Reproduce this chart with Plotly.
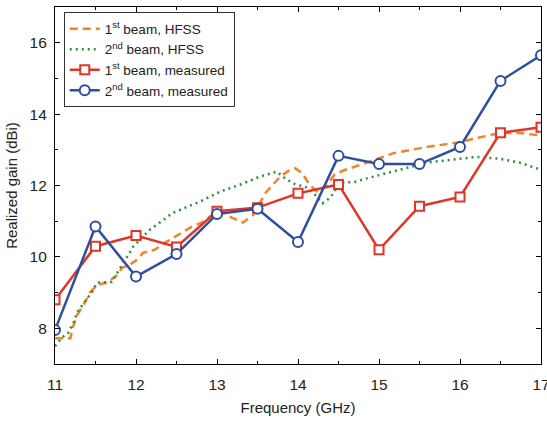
import plotly.graph_objects as go

# Measured data (frequency in GHz, gain in dBi)
freq_meas = [11, 11.5, 12, 12.5, 13, 13.5, 14, 14.5, 15, 15.5, 16, 16.5, 17]
beam1_meas = [8.8, 10.3, 10.6, 10.28, 11.28, 11.38, 11.78, 12.03, 10.2, 11.42, 11.68, 13.48, 13.63]
beam2_meas = [7.95, 10.85, 9.45, 10.08, 11.2, 11.35, 10.42, 12.83, 12.6, 12.6, 13.08, 14.93, 15.65]

# Simulated (HFSS) curves
freq_hfss1 = [11.0, 11.1, 11.19, 11.22, 11.28, 11.37, 11.43, 11.53, 11.65, 11.77, 11.83, 11.9, 12.0,
              12.09, 12.23, 12.36, 12.52, 12.69, 12.81, 12.98, 13.05, 13.18, 13.32, 13.45, 13.6, 13.78,
              13.9, 13.97, 14.05, 14.15, 14.25, 14.35, 14.45, 14.56, 14.85, 15.17, 15.59, 15.96,
              16.21, 16.49, 16.74, 16.95, 17.0]
beam1_hfss = [7.72, 7.72, 7.72, 8.03, 8.4, 8.73, 9.0, 9.23, 9.28, 9.5, 9.7, 9.75, 9.9,
              10.12, 10.2, 10.4, 10.63, 10.85, 10.96, 11.24, 11.3, 11.1, 10.96, 11.18, 11.8, 12.25,
              12.44, 12.48, 12.35, 12.0, 11.8, 12.0, 12.3, 12.42, 12.64, 12.9, 13.08, 13.2,
              13.33, 13.47, 13.47, 13.4, 13.4]

freq_hfss2 = [11.0, 11.09, 11.16, 11.23, 11.28, 11.37, 11.46, 11.52, 11.62, 11.7, 11.77, 11.83,
              11.97, 12.17, 12.46, 12.79, 13.04, 13.28, 13.53, 13.74, 13.84, 13.95, 14.1, 14.21,
              14.3, 14.4, 14.46, 14.52, 14.7, 14.85, 15.17, 15.59, 16.0, 16.21, 16.49, 16.74, 17.0]
beam2_hfss = [7.5, 7.75, 7.86, 8.17, 8.47, 8.75, 9.03, 9.28, 9.28, 9.3, 9.56, 9.79,
              10.3, 10.76, 11.24, 11.55, 11.83, 12.02, 12.25, 12.39, 12.2, 12.05, 11.95, 11.74,
              11.5, 11.66, 11.88, 12.08, 12.1, 12.2, 12.39, 12.64, 12.75, 12.8, 12.75, 12.64, 12.44]

x_ticks = [11, 12, 13, 14, 15, 16, 17]
y_ticks = [8, 10, 12, 14, 16]

ORANGE = "#F5822A"
GREEN = "#2F8F3A"
RED = "#E53325"
BLUE = "#2F4EA2"
FONT = "Liberation Sans, Arial, sans-serif"

fig = go.Figure()
fig.add_trace(go.Scatter(x=freq_hfss1, y=beam1_hfss, mode="lines",
                         name="1<sup>st</sup> beam, HFSS",
                         line=dict(color=ORANGE, width=2.5, dash="8px,5px")))
fig.add_trace(go.Scatter(x=freq_hfss2, y=beam2_hfss, mode="lines",
                         name="2<sup>nd</sup> beam, HFSS",
                         line=dict(color=GREEN, width=2.5, dash="2px,4px")))
fig.add_trace(go.Scatter(x=freq_meas, y=beam1_meas, mode="lines+markers",
                         name="1<sup>st</sup> beam, measured",
                         line=dict(color=RED, width=2.5),
                         marker=dict(symbol="square", size=9, color="white",
                                     line=dict(color=RED, width=2))))
fig.add_trace(go.Scatter(x=freq_meas, y=beam2_meas, mode="lines+markers",
                         name="2<sup>nd</sup> beam, measured",
                         line=dict(color=BLUE, width=2.5),
                         marker=dict(symbol="circle", size=10, color="white",
                                     line=dict(color=BLUE, width=2))))

axis_common = dict(showline=True, linecolor="black", linewidth=1.2, mirror="ticks",
                   ticks="inside", ticklen=5, tickcolor="black", showgrid=False,
                   zeroline=False, ticklabeloverflow="allow", automargin=False,
                   tickfont=dict(size=15.5, color="#222222", family=FONT))

fig.update_xaxes(range=[11, 17], tickvals=x_ticks, ticklabelstandoff=6,
                 title=dict(text="Frequency (GHz)", font=dict(size=15, color="#222222", family=FONT),
                            standoff=10),
                 minor=dict(ticks="inside", ticklen=3, dtick=0.5, tickcolor="black"),
                 **axis_common)
fig.update_yaxes(range=[7, 17], tickvals=y_ticks, ticklabelstandoff=4,
                 title=dict(text="Realized gain (dBi)", font=dict(size=15, color="#222222", family=FONT),
                            standoff=8),
                 minor=dict(ticks="inside", ticklen=3, dtick=1, tickcolor="black"),
                 **axis_common)

fig.update_layout(
    width=547, height=421,
    margin=dict(l=55, r=6, t=7, b=57, autoexpand=False),
    plot_bgcolor="white", paper_bgcolor="white",
    font=dict(family=FONT, color="#222222", size=13),
    legend=dict(x=0.018, y=0.985, xanchor="left", yanchor="top",
                bordercolor="#333333", borderwidth=1, bgcolor="white",
                font=dict(size=13.5, family=FONT, color="#222222"), tracegroupgap=0,
                itemwidth=30),
    showlegend=True,
)

fig.write_html("out.html")
